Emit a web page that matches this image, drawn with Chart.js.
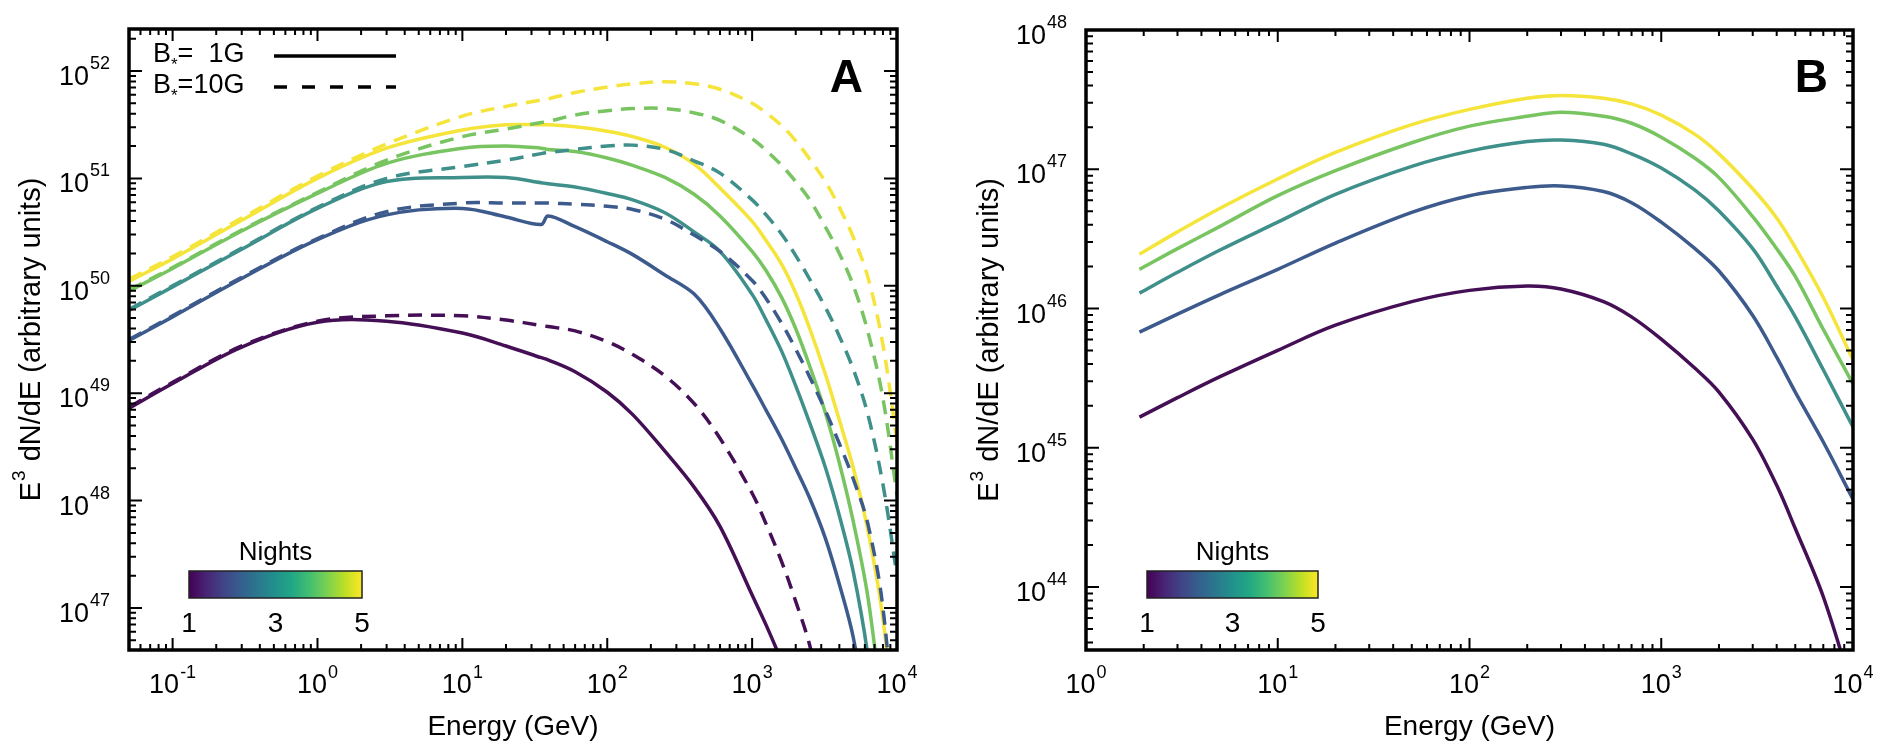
<!DOCTYPE html>
<html>
<head>
<meta charset="utf-8">
<script src="https://cdn.jsdelivr.net/npm/chart.js@4.4.0/dist/chart.umd.min.js"></script>
<style>
html,body{margin:0;padding:0;background:#fff;}
#wrap{position:relative;width:1902px;height:747px;}
canvas{position:absolute;top:0;}
</style>
</head>
<body>
<div id="wrap">
  <canvas id="chartA" width="951" height="747" style="left:0"></canvas>
  <canvas id="chartB" width="951" height="747" style="left:951px"></canvas>
</div>
<script>
// panel A: energy grid (GeV) shared by all curves
const energyA = [0.05, 0.1, 0.3, 1, 3, 10, 20, 35, 39, 60, 100, 150, 250, 400, 600, 1000, 1250, 1600, 2000, 2500, 3200, 4000, 5000, 6300, 8000, 10000];

// B*=1G (solid), nights 1..5
const weak1 = [7.24e48, 1.23e49, 2.69e49, 4.57e49, 4.68e49, 3.63e49, 2.75e49, 2.14e49, 2.04e49, 1.58e49, 1.02e49, 6.31e48, 2.88e48, 1.32e48, 5.75e47, 1.32e47, 6.92e46, 3.16e46, 1.41e46, null, null, null, null, null, null, null];
const weak2 = [3.09e49, 5.13e49, 1.17e50, 2.69e50, 4.57e50, 5.25e50, 4.37e50, 3.72e50, 4.47e50, 3.55e50, 2.57e50, 1.95e50, 1.26e50, 8.32e49, 3.98e49, 1.20e49, 6.92e48, 3.72e48, 2.00e48, 1.05e48, 4.47e47, 1.66e47, 5.25e46, 7.94e45, null, null];
const weak3 = [5.89e49, 9.77e49, 2.19e50, 5.25e50, 9.33e50, 1.02e51, 1.02e51, 9.12e50, 8.91e50, 8.32e50, 7.24e50, 6.31e50, 4.79e50, 3.16e50, 2.09e50, 8.32e49, 4.79e49, 2.45e49, 1.17e49, 5.25e48, 2.04e48, 7.24e47, 2.14e47, 3.55e46, 2.00e45, null];
const weak4 = [8.91e49, 1.45e50, 3.24e50, 7.24e50, 1.38e51, 1.91e51, 2.00e51, 1.91e51, 1.86e51, 1.78e51, 1.55e51, 1.32e51, 1.02e51, 7.08e50, 4.47e50, 2.09e50, 1.38e50, 7.76e49, 3.98e49, 1.78e49, 6.61e48, 2.24e48, 6.31e47, 1.26e47, 1.00e46, null];
const weak5 = [1.10e50, 1.78e50, 4.07e50, 1.00e51, 1.91e51, 2.82e51, 3.16e51, 3.16e51, 3.16e51, 3.02e51, 2.75e51, 2.45e51, 1.95e51, 1.35e51, 8.13e50, 3.98e50, 2.63e50, 1.58e50, 8.51e49, 3.98e49, 1.51e49, 5.62e48, 2.00e48, 5.25e47, 7.94e46, 3.98e45];

// B*=10G (dashed), nights 1..5
const strong1 = [7.41e48, 1.26e49, 2.75e49, 4.68e49, 5.25e49, 5.25e49, 4.79e49, 4.27e49, 4.17e49, 3.80e49, 3.02e49, 2.29e49, 1.45e49, 7.94e48, 3.80e48, 1.17e48, 6.03e47, 2.69e47, 1.15e47, 4.47e46, 1.00e46, null, null, null, null, null];
const strong2 = [3.16e49, 5.25e49, 1.20e50, 2.75e50, 4.90e50, 5.89e50, 5.89e50, 5.89e50, 5.89e50, 5.75e50, 5.50e50, 5.13e50, 4.17e50, 2.95e50, 2.09e50, 1.12e50, 7.59e49, 4.47e49, 2.57e49, 1.41e49, 6.92e48, 3.39e48, 1.58e48, 6.03e47, 1.00e47, 3.16e45];
const strong3 = [6.03e49, 1.00e50, 2.24e50, 5.37e50, 1.00e51, 1.29e51, 1.48e51, 1.70e51, 1.74e51, 1.86e51, 2.00e51, 2.04e51, 1.86e51, 1.45e51, 1.12e51, 6.31e50, 4.57e50, 3.02e50, 1.91e50, 1.15e50, 6.31e49, 3.39e49, 1.66e49, 6.31e48, 1.41e48, 2.00e47];
const strong4 = [9.12e49, 1.48e50, 3.31e50, 7.41e50, 1.48e51, 2.45e51, 2.88e51, 3.31e51, 3.39e51, 3.89e51, 4.27e51, 4.47e51, 4.47e51, 4.07e51, 3.47e51, 2.34e51, 1.82e51, 1.32e51, 9.33e50, 6.31e50, 3.55e50, 2.00e50, 1.00e50, 3.72e49, 8.91e48, 1.12e48];
const strong5 = [1.15e50, 1.86e50, 4.27e50, 1.05e51, 2.09e51, 3.80e51, 4.68e51, 5.37e51, 5.50e51, 6.31e51, 7.08e51, 7.59e51, 7.94e51, 7.59e51, 6.76e51, 5.01e51, 4.07e51, 3.09e51, 2.24e51, 1.51e51, 9.33e50, 5.37e50, 2.82e50, 1.20e50, 2.82e49, 3.55e48];

// panel B: energy grid (GeV) and one curve per night
const energyB = [1.9, 3, 5, 10, 20, 50, 100, 200, 300, 500, 700, 1000, 1500, 2000, 3000, 4000, 5000, 7000, 10000];
const nightB1 = [1.66e45, 2.29e45, 3.24e45, 5.01e45, 7.59e45, 1.12e46, 1.35e46, 1.45e46, 1.38e46, 1.12e46, 8.71e45, 6.03e45, 3.72e45, 2.51e45, 1.15e45, 5.37e44, 2.63e44, 8.51e43, 1.78e43];
const nightB2 = [6.76e45, 9.12e45, 1.26e46, 1.91e46, 2.95e46, 4.90e46, 6.46e46, 7.41e46, 7.59e46, 6.92e46, 5.75e46, 4.17e46, 2.69e46, 1.86e46, 8.91e45, 4.47e45, 2.51e45, 1.10e45, 4.27e44];
const nightB3 = [1.29e46, 1.82e46, 2.63e46, 4.17e46, 6.61e46, 1.05e47, 1.35e47, 1.58e47, 1.62e47, 1.51e47, 1.29e47, 1.02e47, 7.08e46, 5.01e46, 2.69e46, 1.45e46, 8.71e45, 3.63e45, 1.41e45];
const nightB4 = [1.91e46, 2.69e46, 3.89e46, 6.46e46, 9.77e46, 1.55e47, 2.04e47, 2.40e47, 2.57e47, 2.40e47, 2.14e47, 1.70e47, 1.20e47, 8.71e46, 4.57e46, 2.69e46, 1.70e46, 7.08e45, 2.88e45];
const nightB5 = [2.45e46, 3.55e46, 5.25e46, 8.51e46, 1.32e47, 2.09e47, 2.69e47, 3.24e47, 3.39e47, 3.24e47, 2.95e47, 2.45e47, 1.78e47, 1.29e47, 7.24e46, 4.47e46, 2.75e46, 1.20e46, 4.27e45];

const nights = [1, 2, 3, 4, 5];
const nightColors = ['#440f55', '#3d5a8d', '#3f8f8a', '#78c461', '#f5e43a'];
const colorbarTicks = [1, 3, 5];
const xTicksA = [-1, 0, 1, 2, 3, 4];
const yTicksA = [47, 48, 49, 50, 51, 52];
const xTicksB = [0, 1, 2, 3, 4];
const yTicksB = [44, 45, 46, 47, 48];
const legendRows = ['1G', '10G'];

const FONT = '"Liberation Sans", Arial, sans-serif';
const viridis = ['#440154', '#482475', '#414487', '#355f8d', '#2a788e', '#21918c', '#22a884', '#44bf70', '#7ad151', '#bddf26', '#fde725'];

function pts(xs, ys) {
    return xs.map((e, i) => ({x: e, y: ys[i]}));
}

function drawPow(ctx, exp, x, y, anchor, rise) {
    ctx.font = '27px ' + FONT;
    let wb = ctx.measureText('10').width;
    ctx.font = '18px ' + FONT;
    let txt = String(exp);
    let we = ctx.measureText(txt).width;
    let total = wb + 1 + we;
    let left = anchor == 'right' ? x - total : x - total / 2;
    ctx.textAlign = 'left';
    ctx.font = '27px ' + FONT;
    ctx.fillText('10', left, y);
    ctx.font = '18px ' + FONT;
    ctx.fillText(txt, left + wb + 1, y - rise);
}

function colorbar(ctx, x0, x1, top, bottom) {
    let g = ctx.createLinearGradient(x0, 0, x1, 0);
    viridis.forEach((c, i) => g.addColorStop(i / (viridis.length - 1), c));
    ctx.fillStyle = g;
    ctx.fillRect(x0, top, x1 - x0, bottom - top);
    ctx.strokeStyle = '#222';
    ctx.lineWidth = 1.5;
    ctx.strokeRect(x0, top, x1 - x0, bottom - top);
    ctx.fillStyle = '#000';
    ctx.textAlign = 'center';
    ctx.font = '26px ' + FONT;
    ctx.fillText('Nights', (x0 + x1) / 2, top - 11);
    ctx.font = '28px ' + FONT;
    colorbarTicks.forEach(t => {
        let px = x0 + (t - colorbarTicks[0]) / (colorbarTicks[colorbarTicks.length - 1] - colorbarTicks[0]) * (x1 - x0);
        ctx.fillText(String(t), px, bottom + 34);
    });
}

const framePlugin = {
    id: 'frame',
    afterDraw(chart, args, o) {
        const ctx = chart.ctx;
        const a = chart.chartArea;
        const xs = chart.scales.x, ys = chart.scales.y;
        ctx.save();
        ctx.strokeStyle = '#000';
        ctx.fillStyle = '#000';

        // inward ticks on all four sides
        ctx.lineWidth = 2;
        function logTicks(scale, cb) {
            let lo = Math.floor(Math.log10(scale.min)), hi = Math.ceil(Math.log10(scale.max));
            for (let d = lo; d <= hi; d++) {
                for (let k = 1; k < 10; k++) {
                    let v = k * Math.pow(10, d);
                    if (v < scale.min * 0.999 || v > scale.max * 1.001) continue;
                    cb(scale.getPixelForValue(v), k == 1);
                }
            }
        }
        ctx.beginPath();
        logTicks(xs, (px, major) => {
            let L = major ? 12 : 6;
            ctx.moveTo(px, a.bottom); ctx.lineTo(px, a.bottom - L);
            ctx.moveTo(px, a.top); ctx.lineTo(px, a.top + L);
        });
        logTicks(ys, (py, major) => {
            let L = major ? 13 : 7;
            ctx.moveTo(a.left, py); ctx.lineTo(a.left + L, py);
            ctx.moveTo(a.right, py); ctx.lineTo(a.right - L, py);
        });
        ctx.stroke();

        ctx.lineWidth = 3.5;
        ctx.strokeRect(a.left, a.top, a.right - a.left, a.bottom - a.top);

        // tick labels
        o.xTicks.forEach(e => drawPow(ctx, e, xs.getPixelForValue(Math.pow(10, e)), 693, 'center', 15));
        o.yTicks.forEach(e => drawPow(ctx, e, a.left - 19, ys.getPixelForValue(Math.pow(10, e)) + 14, 'right', 16));

        // x title
        ctx.textAlign = 'center';
        ctx.font = '28px ' + FONT;
        ctx.fillText('Energy (GeV)', (a.left + a.right) / 2, 735);

        // y title, rotated
        ctx.save();
        ctx.translate(o.yTitleX, (a.top + a.bottom) / 2);
        ctx.rotate(-Math.PI / 2);
        ctx.font = '29px ' + FONT;
        let wE = ctx.measureText('E').width;
        let rest = ' dN/dE (arbitrary units)';
        let wR = ctx.measureText(rest).width;
        ctx.font = '19px ' + FONT;
        let w3 = ctx.measureText('3').width;
        let x0 = -(wE + w3 + 2 + wR) / 2;
        ctx.textAlign = 'left';
        ctx.font = '29px ' + FONT;
        ctx.fillText('E', x0, 0);
        ctx.font = '19px ' + FONT;
        ctx.fillText('3', x0 + wE + 1, -15);
        ctx.font = '29px ' + FONT;
        ctx.fillText(rest, x0 + wE + w3 + 2, 0);
        ctx.restore();

        // panel letter
        ctx.textAlign = 'right';
        ctx.font = 'bold 46px ' + FONT;
        ctx.fillText(o.letter, o.letterX, 92);

        // B* legend (panel A only)
        if (o.legend) {
            legendRows.forEach((lab, i) => {
                let base = 62 + i * 31;
                let lx = 153;
                ctx.textAlign = 'left';
                ctx.font = '27px ' + FONT;
                ctx.fillText('B', lx, base);
                lx += ctx.measureText('B').width;
                ctx.font = '17px ' + FONT;
                ctx.fillText('*', lx, base + 8);
                lx += ctx.measureText('*').width;
                ctx.font = '27px ' + FONT;
                let t = lab == '1G' ? '=  1G' : '=10G';
                ctx.fillText(t, lx, base);
                ctx.beginPath();
                ctx.lineWidth = 3.5;
                ctx.setLineDash(i == 0 ? [] : [13, 15]);
                ctx.moveTo(274, base - 6);
                ctx.lineTo(396, base - 6);
                ctx.stroke();
                ctx.setLineDash([]);
            });
        }

        colorbar(ctx, o.cb[0], o.cb[1], 571, 598);
        ctx.restore();
    }
};

function makeChart(id, datasets, xr, yr, pad, deco) {
    return new Chart(document.getElementById(id), {
        type: 'line',
        data: {datasets: datasets},
        options: {
            responsive: false,
            animation: false,
            layout: {padding: pad},
            plugins: {legend: {display: false}, tooltip: {enabled: false}, frame: deco},
            scales: {
                x: {type: 'logarithmic', min: xr[0], max: xr[1], display: false},
                y: {type: 'logarithmic', min: yr[0], max: yr[1], display: false}
            },
            elements: {
                point: {radius: 0},
                line: {borderWidth: 3.5, tension: 0.35, fill: false}
            }
        },
        plugins: [framePlugin]
    });
}

const weakA = [weak1, weak2, weak3, weak4, weak5];
const strongA = [strong1, strong2, strong3, strong4, strong5];
let datasetsA = [];
nights.forEach((n, i) => {
    datasetsA.push({label: 'B*=10G night ' + n, data: pts(energyA, strongA[i]), borderColor: nightColors[i], borderDash: [14, 9]});
});
nights.forEach((n, i) => {
    datasetsA.push({label: 'B*=1G night ' + n, data: pts(energyA, weakA[i]), borderColor: nightColors[i]});
});

const nightsB = [nightB1, nightB2, nightB3, nightB4, nightB5];
let datasetsB = nights.map((n, i) => ({label: 'night ' + n, data: pts(energyB, nightsB[i]), borderColor: nightColors[i]}));

makeChart('chartA', datasetsA, [0.05, 1e4], [4.06e46, 2.46e52],
    {left: 129, top: 29, right: 54, bottom: 97},
    {xTicks: xTicksA, yTicks: yTicksA, yTitleX: 40, letter: 'A', letterX: 863, legend: true, cb: [189, 362]});
makeChart('chartB', datasetsB, [1, 1e4], [3.53e43, 1e48],
    {left: 135, top: 30, right: 49, bottom: 97},
    {xTicks: xTicksB, yTicks: yTicksB, yTitleX: 47, letter: 'B', letterX: 877, legend: false, cb: [196, 367]});
</script>
</body>
</html>
